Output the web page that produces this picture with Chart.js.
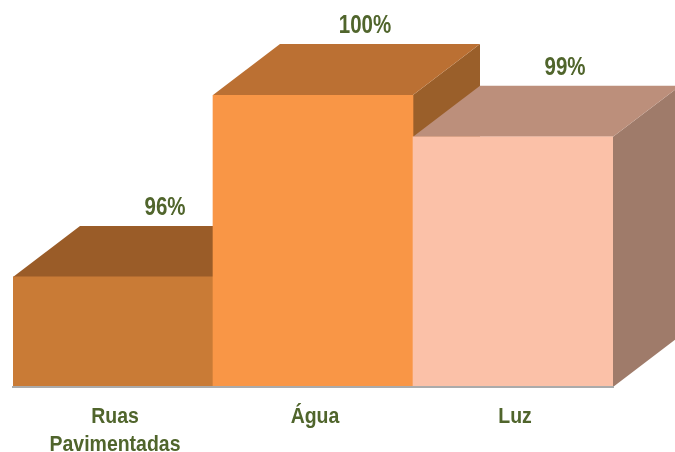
<!DOCTYPE html>
<html>
<head>
<meta charset="utf-8">
<style>html,body{margin:0;padding:0;background:#fff}canvas{display:block}</style>
<script src="https://cdn.jsdelivr.net/npm/chart.js@4"></script>
</head>
<body>
<canvas id="c" width="675" height="452"></canvas>
<script>
const categories = [["Ruas","Pavimentadas"],"Água","Luz"];
const values = [96, 100, 99.08];
const frontColors = ["#C97B36","#F99646","#FBC1A8"];
const topColors = ["#9A5C28","#BB7033","#BC8F7B"];
const sideColors = ["#9A5C28","#9A5F2A","#9F7B6A"];
const textColor = "#50652C";
const fontFamily = '"Liberation Sans",Arial,sans-serif';

function narrowText(ctx,text,x,y,sx){
  ctx.save();
  ctx.translate(x,y);
  ctx.scale(sx,1);
  ctx.fillText(text,0,0);
  ctx.restore();
}

const depth3d = {
  id:"depth3d",
  beforeDatasetsDraw(chart){
    const ctx = chart.ctx, dx = 67, dy = -51;
    const base = chart.scales.y.bottom;
    chart.getDatasetMeta(0).data.forEach((bar,i)=>{
      const l = bar.x - bar.width/2, r = bar.x + bar.width/2, t = bar.y;
      ctx.fillStyle = sideColors[i];
      ctx.beginPath();
      ctx.moveTo(r,t); ctx.lineTo(r+dx,t+dy); ctx.lineTo(r+dx,base+dy); ctx.lineTo(r,base);
      ctx.closePath(); ctx.fill();
      ctx.fillStyle = topColors[i];
      ctx.beginPath();
      ctx.moveTo(l,t); ctx.lineTo(l+dx,t+dy); ctx.lineTo(r+dx,t+dy); ctx.lineTo(r,t);
      ctx.closePath(); ctx.fill();
    });
  },
  afterDraw(chart){
    const ctx = chart.ctx, xs = chart.scales.x;
    ctx.save();
    ctx.fillStyle = textColor;
    ctx.textAlign = "center";
    ctx.textBaseline = "alphabetic";
    ctx.font = 'bold 25px '+fontFamily;
    chart.getDatasetMeta(0).data.forEach((bar,i)=>{
      narrowText(ctx,Math.round(values[i])+"%",bar.x+52,bar.y-62,0.82);
    });
    ctx.font = 'bold 22px '+fontFamily;
    xs.ticks.forEach((tick,i)=>{
      const lines = [].concat(tick.label);
      lines.forEach((line,j)=>{
        narrowText(ctx,line,xs.getPixelForTick(i)+2,xs.bottom-29.5+j*28,0.885);
      });
    });
    ctx.restore();
  }
};

new Chart(document.getElementById("c"),{
  type:"bar",
  data:{labels:categories,datasets:[{data:values,backgroundColor:frontColors,borderWidth:0,barPercentage:1,categoryPercentage:1}]},
  plugins:[depth3d],
  options:{
    responsive:false,animation:false,
    layout:{padding:{left:13,right:62,top:95,bottom:0}},
    plugins:{legend:{display:false},tooltip:{enabled:false}},
    scales:{
      y:{display:false,min:93.58,max:100},
      x:{
        afterFit(s){s.height=65;},
        grid:{display:false},
        border:{display:true,color:"#ABABAB",width:2,z:1},
        ticks:{display:false,autoSkip:false,maxRotation:0}
      }
    }
  }
});
</script>
</body>
</html>
